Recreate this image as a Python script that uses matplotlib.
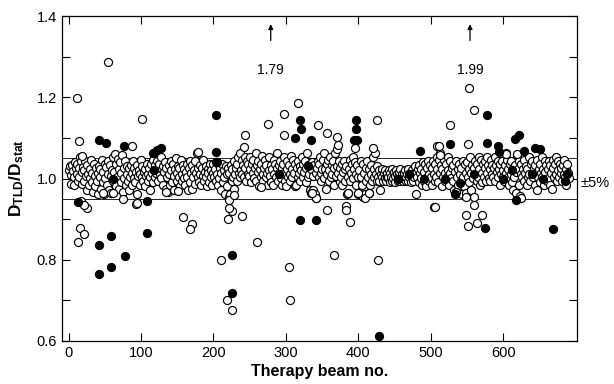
import matplotlib.pyplot as plt
import numpy as np

plt.rcParams['font.family'] = ['Liberation Sans', 'DejaVu Sans']
plt.rcParams['mathtext.fontset'] = 'custom'
plt.rcParams['mathtext.rm'] = 'Liberation Sans'
plt.rcParams['mathtext.bf'] = 'Liberation Sans:bold'

# ratio for each therapy beam (beam no. = position in list, starting at 1)
band_y = [
    1.022, 1.031, 1.008, 0.987, 1.034, 1.018, 0.983, 1.004, 1.041, 1.025, 1.012, 1.036, 0.993, 1.027, 1.003, 1.052, 1.044, 0.986, 1.015, 1.029,
    0.994, 1.021, 1.043, 1.006, 0.972, 1.033, 1.011, 0.985, 1.024, 1.002, 1.046, 0.991, 1.013, 0.968, 1.035, 1.007, 0.981, 1.026, 0.995, 1.014,
    0.962, 1.032, 1.004, 1.023, 0.974, 1.045, 0.992, 1.016, 0.963, 1.037, 1.001, 1.028, 0.984, 1.043, 1.012, 0.973, 1.034, 1.006, 0.965, 1.021,
    1.054, 0.993, 1.015, 1.061, 0.982, 1.036, 1.003, 1.048, 0.975, 1.024, 1.042, 0.991, 1.013, 1.058, 0.966, 1.027, 1.002, 1.044, 0.985, 1.031,
    1.012, 0.994, 1.026, 0.973, 1.005, 1.033, 1.014, 0.984, 1.043, 1.002, 1.025, 0.991, 1.016, 0.962, 1.034, 1.007, 1.022, 0.983, 1.011, 1.046,
    1.004, 1.032, 0.993, 1.015, 1.024, 0.982, 1.006, 1.035, 1.012, 0.994, 1.027, 1.003, 0.972, 1.036, 1.014, 0.992, 1.045, 1.021, 1.004, 1.033,
    1.013, 1.044, 1.022, 0.995, 1.036, 1.011, 1.053, 1.002, 1.024, 0.983, 1.031, 1.015, 1.042, 0.974, 1.026, 1.003, 0.968, 1.034, 1.012, 0.985,
    1.043, 1.021, 0.992, 1.035, 1.006, 0.973, 1.024, 1.051, 1.013, 0.994, 1.032, 1.004, 1.025, 0.982, 1.046, 1.012, 0.993, 1.034, 1.002, 1.023,
    0.984, 1.015, 1.036, 1.004, 0.972, 1.026, 1.043, 0.991, 1.014, 0.975, 1.033, 1.005, 1.022, 0.986, 1.044, 1.013, 1.062, 1.003, 1.025, 0.992,
    1.034, 1.012, 0.983, 1.025, 1.006, 1.045, 0.994, 1.016, 1.032, 1.003, 0.981, 1.024, 1.013, 0.992, 1.035, 1.004, 1.021, 0.985, 1.014, 1.036,
    1.005, 1.023, 0.994, 1.042, 1.012, 0.984, 1.033, 1.002, 1.026, 0.973, 1.014, 1.035, 0.991, 1.022, 1.004, 0.963, 1.032, 1.011, 0.982, 1.025,
    0.954, 1.013, 0.962, 1.034, 0.993, 1.024, 1.005, 0.974, 1.043, 1.012, 1.026, 0.995, 1.036, 1.052, 1.014, 1.003, 1.063, 1.022, 1.045, 1.011,
    1.034, 1.004, 1.053, 1.025, 0.993, 1.044, 1.012, 1.035, 1.006, 1.054, 1.023, 0.992, 1.036, 1.014, 1.045, 1.002, 1.026, 1.062, 0.994, 1.033,
    1.015, 1.043, 0.982, 1.024, 1.003, 1.036, 1.055, 1.012, 0.993, 1.025, 1.046, 1.004, 1.033, 1.013, 0.984, 1.022, 1.054, 1.006, 1.034, 0.992,
    1.023, 0.983, 1.045, 1.012, 1.036, 1.004, 1.064, 1.025, 0.994, 1.033, 1.014, 1.043, 1.002, 1.026, 0.984, 1.035, 1.013, 1.052, 0.993, 0.982,
    1.024, 1.043, 1.005, 1.034, 1.012, 0.993, 1.056, 1.023, 1.004, 1.045, 1.013, 0.982, 1.035, 0.984, 1.026, 1.003, 1.044, 1.014, 1.032, 0.995,
    1.022, 1.054, 1.003, 1.036, 1.015, 1.043, 0.992, 1.025, 1.063, 1.004, 1.033, 1.012, 0.973, 1.024, 0.964, 1.042, 1.006, 0.972, 1.034, 0.963,
    1.013, 0.953, 1.025, 1.044, 1.003, 1.036, 1.052, 1.014, 0.993, 1.023, 1.045, 1.002, 1.062, 1.024, 0.974, 1.035, 1.012, 1.046, 0.994, 1.022,
    1.053, 1.004, 1.034, 1.012, 1.043, 0.983, 1.025, 1.064, 1.006, 1.032, 1.072, 1.013, 1.044, 0.992, 1.026, 1.003, 1.035, 0.984, 1.015, 1.043,
    1.024, 0.993, 1.032, 0.962, 1.004, 0.965, 1.023, 1.045, 0.994, 1.013, 1.036, 1.002, 1.054, 1.024, 1.042, 1.012, 0.983, 1.034, 1.005, 0.963,
    1.022, 0.962, 1.043, 1.004, 0.984, 1.035, 0.954, 1.013, 0.963, 1.025, 0.993, 1.044, 1.003, 0.964, 1.024, 0.985, 1.033, 1.012, 0.994, 1.053,
    1.024, 1.003, 1.062, 1.012, 0.994, 1.032, 1.004, 1.021, 0.993, 0.972, 1.012, 1.003, 1.024, 0.994, 1.013, 1.002, 1.022, 0.993, 1.005, 1.014,
    1.003, 1.021, 0.992, 1.013, 1.004, 0.995, 1.023, 1.001, 1.015, 0.992, 1.006, 1.022, 1.011, 0.994, 1.003, 1.016, 0.993, 1.024, 1.002, 1.012,
    0.994, 1.003, 1.014, 1.022, 0.993, 1.005, 1.012, 0.995, 1.023, 1.004, 1.013, 0.992, 1.006, 1.021, 1.012, 0.993, 1.004, 1.032, 1.014, 0.963,
    1.004, 1.023, 0.992, 1.034, 1.013, 1.002, 1.024, 0.983, 1.042, 1.015, 0.993, 1.035, 0.982, 1.003, 1.026, 1.044, 0.994, 1.012, 1.033, 1.004,
    1.025, 0.984, 1.043, 1.012, 0.993, 1.036, 1.004, 1.052, 1.023, 0.992, 1.045, 1.063, 1.013, 1.034, 0.982, 1.024, 1.003, 1.046, 1.014, 0.993,
    1.035, 1.004, 1.053, 1.022, 0.983, 1.014, 1.044, 1.002, 1.026, 0.994, 1.033, 0.972, 1.015, 1.043, 0.968, 1.005, 1.024, 0.984, 1.036, 1.012,
    0.993, 1.025, 0.962, 1.044, 1.003, 0.982, 1.035, 0.964, 1.013, 1.042, 1.004, 1.023, 0.992, 1.053, 1.014, 0.973, 1.034, 1.002, 1.026, 0.955,
    1.043, 1.012, 0.994, 1.035, 1.003, 1.054, 1.024, 0.983, 1.045, 1.013, 0.992, 1.036, 1.004, 1.025, 1.043, 0.993, 1.052, 1.014, 1.034, 1.002,
    1.023, 0.994, 1.045, 1.012, 1.033, 1.004, 1.026, 1.053, 0.993, 1.034, 1.015, 1.043, 1.003, 1.024, 0.984, 1.035, 1.012, 1.044, 1.005, 1.022,
    0.993, 1.034, 1.062, 1.013, 1.045, 1.004, 1.023, 0.984, 1.036, 1.012, 1.043, 0.992, 1.025, 0.973, 1.003, 1.034, 0.964, 1.015, 1.058, 1.024,
    0.983, 1.044, 0.956, 1.012, 1.035, 1.003, 1.024, 0.993, 1.046, 1.014, 1.032, 0.985, 1.023, 1.004, 1.053, 1.012, 0.994, 1.035, 1.013, 1.043,
    1.004, 1.025, 0.983, 1.034, 1.012, 0.972, 1.045, 1.003, 1.024, 0.992, 1.036, 1.013, 1.052, 1.004, 1.023, 0.984, 1.044, 1.015, 1.033, 0.993,
    1.024, 1.002, 1.043, 0.985, 1.034, 1.013, 0.974, 1.025, 1.045, 1.004, 1.036, 1.012, 1.053, 0.993, 1.022, 1.044, 1.003, 1.035, 1.014, 1.026,
    0.994, 1.033, 1.012, 1.045, 1.003, 1.024, 0.985, 1.036, 1.013, 1.002,
]

# further open-circle beams away from the band
open_x = [12, 54, 14, 101, 16, 13, 22, 93, 25, 87, 18, 17, 21, 243, 242, 179, 158, 171, 167, 220,
          239, 226, 211, 219, 226, 316, 298, 275, 297, 344, 356, 371, 372, 395, 426, 420, 508, 260, 304, 306,
          356, 383, 383, 389, 367, 427, 504, 553, 560, 526, 511, 551, 512, 603, 619, 505, 548, 560, 571, 551,
          563, 548, 535, 624, 222, 221, 228, 94, 47, 61, 75, 135, 151, 265, 342, 336, 409, 386, 400, 414]
open_y = [1.198, 1.287, 1.092, 1.146, 0.878, 0.843, 0.863, 0.937, 0.927, 1.080, 1.055, 0.945, 0.935, 1.107, 1.077, 1.065, 0.905, 0.888, 0.876, 0.900,
          0.907, 0.920, 0.800, 0.700, 0.676, 1.186, 1.159, 1.134, 1.107, 1.132, 1.112, 1.102, 1.083, 1.075, 1.144, 1.075, 1.080, 0.843, 0.782, 0.700,
          0.922, 0.932, 0.922, 0.893, 0.811, 0.800, 0.930, 1.223, 1.168, 1.132, 1.080, 1.085, 1.058, 1.060, 1.060, 0.930, 0.910, 0.935, 0.910, 0.883,
          0.890, 0.955, 0.967, 0.952, 0.927, 0.947, 0.960, 0.940, 0.964, 0.964, 0.950, 0.966, 0.970, 0.980, 0.952, 0.964, 0.952, 0.964, 0.964, 0.964]

# filled-circle beams
filled_x = [42, 52, 76, 13, 108, 108, 42, 58, 42, 59, 78, 117, 127, 122, 204, 203, 225, 226, 320, 321,
            312, 334, 397, 396, 394, 398, 485, 320, 341, 429, 578, 526, 578, 592, 594, 616, 622, 628, 644, 651,
            575, 533, 618, 669, 62, 118, 205, 290, 330, 455, 470, 490, 520, 540, 560, 600, 612, 640, 655, 685, 688]
filled_y = [1.095, 1.088, 1.080, 0.942, 0.945, 0.866, 0.837, 0.858, 0.765, 0.782, 0.810, 1.063, 1.075, 1.070, 1.156, 1.065, 0.811, 0.718, 1.144, 1.122,
            1.100, 1.095, 1.144, 1.122, 1.095, 1.095, 1.068, 0.898, 0.898, 0.612, 1.156, 1.085, 1.087, 1.080, 1.065, 1.097, 1.107, 1.068, 1.075, 1.072,
            0.878, 0.963, 0.947, 0.876, 1.000, 1.020, 1.040, 1.010, 1.030, 1.000, 1.010, 1.000, 1.000, 0.990, 1.010, 1.000, 1.020, 1.010, 1.000, 0.995, 1.010]

# off-scale beams (shown by arrows)
offscale_x = [279, 554]
offscale_labels = ['1.79', '1.99']

beam_no = np.arange(1, len(band_y) + 1)

fig, ax = plt.subplots(figsize=(6.14, 3.84), dpi=100)
fig.subplots_adjust(left=0.101, right=0.939, bottom=0.112, top=0.958)

ax.axhline(1.05, color='black', lw=0.6, zorder=1)  # +5% line
ax.axhline(0.95, color='black', lw=0.6, zorder=1)  # -5% line

ax.plot(beam_no, band_y, 'o', ls='none', ms=5.8, mfc='white', mec='black', mew=0.85, zorder=2)
ax.plot(open_x, open_y, 'o', ls='none', ms=5.8, mfc='white', mec='black', mew=0.85, zorder=2)
ax.plot(filled_x, filled_y, 'o', ls='none', ms=5.8, mfc='black', mec='black', mew=0.85, zorder=3)

for xo, lab in zip(offscale_x, offscale_labels):
    ax.annotate('', xy=(xo, 1.387), xytext=(xo, 1.333),
                arrowprops=dict(arrowstyle='-|>', color='black', lw=0.9, mutation_scale=7))
    ax.text(xo, 1.268, lab, ha='center', va='center', fontsize=10)

ax.text(1.007, 0.485, '\u00b15%', transform=ax.transAxes, ha='left', va='center', fontsize=10.5)

ax.set_xlim(-9, 701)
ax.set_ylim(0.6, 1.4)
ax.set_xticks(np.arange(0, 700, 100))
ax.set_yticks([0.6, 0.8, 1.0, 1.2, 1.4])
ax.set_yticks([0.7, 0.9, 1.1, 1.3], minor=True)
ax.yaxis.set_major_formatter(plt.FormatStrFormatter('%.1f'))
ax.tick_params(which='both', direction='in', top=True, right=True, labelsize=10.5, width=0.8)
ax.tick_params(which='major', length=6)
ax.tick_params(which='minor', length=6)

ax.set_xlabel('Therapy beam no.', fontsize=11.5, fontweight='bold', labelpad=3)
ax.set_ylabel(r'$\mathbf{D_{TLD}/D_{stat}}$', fontsize=12.5, labelpad=8)

for sp in ax.spines.values():
    sp.set_linewidth(0.9)

fig.savefig('out.png')
plt.close(fig)
